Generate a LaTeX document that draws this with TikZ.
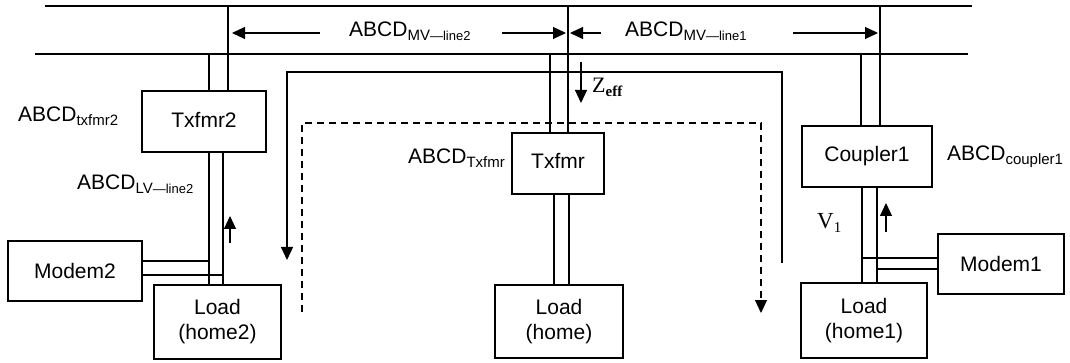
\documentclass[tikz,border=0pt]{standalone}
\usepackage{fontspec}
\setmainfont{Liberation Sans}
\newfontfamily\serifface{Liberation Serif}
\usetikzlibrary{arrows.meta}

% subscripts set lower and smaller than the main label text
\newcommand\lowsub[1]{\raisebox{-4pt}{\fontsize{15}{15}\selectfont #1}}
\newcommand\smallpart[1]{{\fontsize{13}{13}\selectfont #1}}

\begin{document}
\begin{tikzpicture}[x=1pt,y=-1pt,
  wire/.style={line width=1.2pt},
  box/.style={draw,line width=1.2pt,inner sep=0pt,align=center,
    font=\fontsize{21}{25}\selectfont},
  lbl/.style={inner sep=0pt,anchor=base west,font=\fontsize{21}{25}\selectfont},
  flow/.style={line width=1.2pt,-{Triangle[length=13pt,width=12pt]}},
  dflow/.style={flow,dash pattern=on 7pt off 5pt}]

\useasboundingbox (0,0) rectangle (1070,363);

% ---- boxes ----
\node[box,minimum width=124pt,minimum height=61pt] (txfmr2) at (204,121.5) {\raisebox{4pt}{Txfmr2}};
\node[box,minimum width=134pt,minimum height=60pt] (modem2) at (75,271) {Modem2};
\node[box,minimum width=127pt,minimum height=74pt] (home2) at (217.5,322) {Load\\(home2)};
\node[box,minimum width=92pt,minimum height=61pt] (txfmr) at (558,163.5) {\raisebox{6pt}{Txfmr}};
\node[box,minimum width=128pt,minimum height=73pt] (home) at (559,321.5) {Load\\(home)};
\node[box,minimum width=130pt,minimum height=61pt] (coupler1) at (867,156.5) {Coupler1};
\node[box,minimum width=126pt,minimum height=60pt] (modem1) at (1001,264) {Modem1};
\node[box,minimum width=126pt,minimum height=75pt] (home1) at (864,320.5) {Load\\(home1)};

% ---- MV buses ----
\draw[wire] (45,6) -- (972,6);
\draw[wire] (35,54) -- (968,54);

% taps from the buses
\coordinate (a2) at (228,6);   \coordinate (b2) at (209,54);
\coordinate (a0) at (568,6);   \coordinate (b0) at (550,54);
\coordinate (a1) at (880,6);   \coordinate (b1) at (861,54);
\draw[wire] (a2) -- (a2 |- txfmr2.north);
\draw[wire] (b2) -- (b2 |- txfmr2.north);
\draw[wire] (a0) -- (a0 |- txfmr.north);
\draw[wire] (b0) -- (b0 |- txfmr.north);
\draw[wire] (a1) -- (a1 |- coupler1.north);
\draw[wire] (b1) -- (b1 |- coupler1.north);

% LV line 2
\coordinate (l2a) at (209,0); \coordinate (l2b) at (223,0);
\draw[wire] (l2a |- txfmr2.south) -- (l2a |- home2.north);
\draw[wire] (l2b |- txfmr2.south) -- (l2b |- home2.north);
\draw[wire] (modem2.east |- {0,261}) -- (l2a |- {0,261});
\draw[wire] (modem2.east |- {0,275}) -- (l2b |- {0,275});

% service drop to home
\coordinate (l0a) at (554,0); \coordinate (l0b) at (569,0);
\draw[wire] (l0a |- txfmr.south) -- (l0a |- home.north);
\draw[wire] (l0b |- txfmr.south) -- (l0b |- home.north);

% LV line 1
\coordinate (l1a) at (862,0); \coordinate (l1b) at (877,0);
\draw[wire] (l1a |- coupler1.south) -- (l1a |- home1.north);
\draw[wire] (l1b |- coupler1.south) -- (l1b |- home1.north);
\draw[wire] (l1a |- {0,258}) -- (modem1.west |- {0,258});
\draw[wire] (l1b |- {0,269}) -- (modem1.west |- {0,269});

% ---- span arrows on the MV section ----
\draw[flow] (320,33) -- (232,33);
\draw[flow] (502,33) -- (566,33);
\draw[flow] (601,33) -- (570,33);
\draw[flow] (793,33) -- (878,33);

% ---- signal paths ----
\draw[flow] (782,263) -- (782,72) -- (287,72) -- (287,260);
\draw[dflow] (302,312) -- (302,123) -- (761,123) -- (761,313);
\draw[flow] (581,62) -- (581,103);
\draw[flow] (230,243) -- (230,216);
\draw[flow] (886,232) -- (886,203);

% ---- labels ----
\node[lbl] (tMV2) at (349,37) {ABCD\lowsub{MV\smallpart{—line2}}};
\node[lbl] (tMV1) at (625,37) {ABCD\lowsub{MV\smallpart{—line1}}};
\node[lbl] (tT2) at (18,122) {ABCD\lowsub{txfmr2}};
\node[lbl] (tLV2) at (77,190) {ABCD\lowsub{LV\smallpart{—line2}}};
\node[lbl] (tT) at (408,164) {ABCD\lowsub{Txfmr}};
\node[lbl] (tC1) at (947,161) {ABCD\lowsub{coupler1}};
\node[lbl,font=\serifface\fontsize{22}{25}\selectfont] (tZ) at (592,93)
  {Z\raisebox{-4pt}{\fontsize{15}{15}\selectfont\bfseries eff}};
\node[lbl,font=\serifface\fontsize{23}{25}\selectfont] (tV) at (817,229)
  {V\raisebox{-4pt}{\fontsize{15}{15}\selectfont 1}};

\end{tikzpicture}
\end{document}
